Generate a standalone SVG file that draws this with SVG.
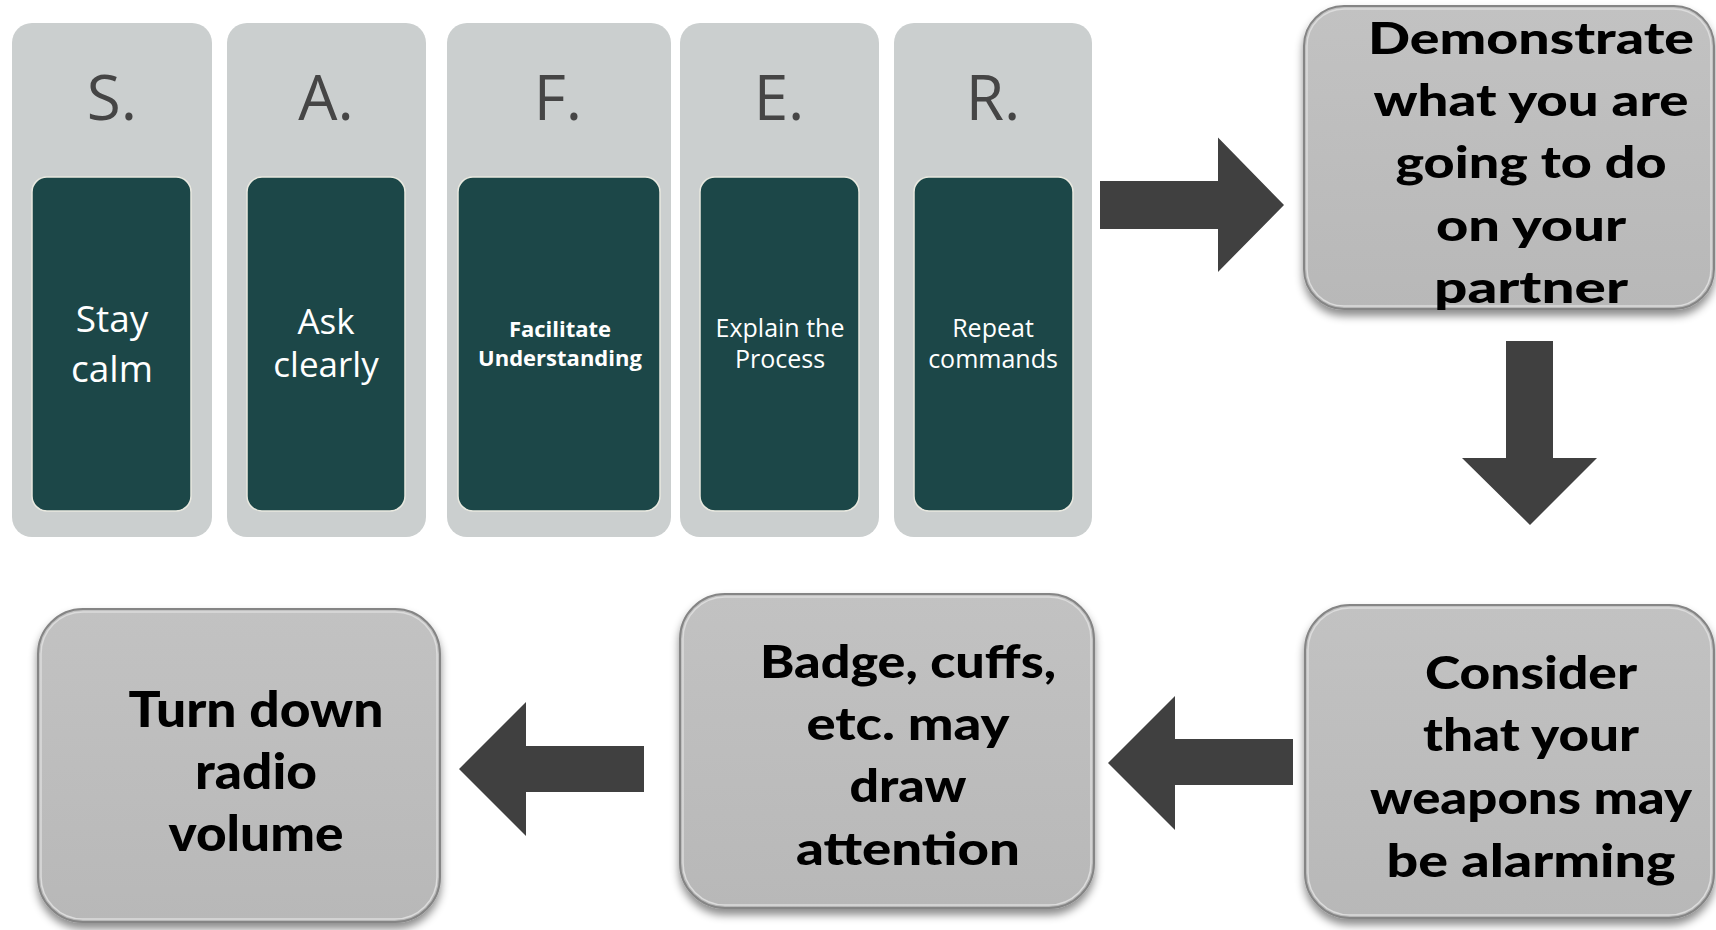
<svg xmlns="http://www.w3.org/2000/svg" width="1716" height="930" viewBox="0 0 1716 930">
<defs>
<filter id="sh" x="-10%" y="-10%" width="120%" height="125%">
<feDropShadow dx="0" dy="6" stdDeviation="4" flood-color="#000" flood-opacity="0.45"/>
</filter>
<linearGradient id="bg" x1="0" y1="0" x2="0" y2="1">
<stop offset="0" stop-color="#c2c2c2"/>
<stop offset="1" stop-color="#b8b8b8"/>
</linearGradient>
</defs>
<style>
.col{fill:#cbcfcf}
.inner{fill:#1c4748;stroke:#e9e9e0;stroke-width:1.5}
.letter{font-family:"Open Sans","Noto Sans",sans-serif;font-weight:400;font-size:62px;fill:#454545;text-anchor:middle}
.it{font-family:"Open Sans","Noto Sans",sans-serif;fill:#ffffff;text-anchor:middle}
.box{fill:url(#bg);stroke:#858585;stroke-width:2;filter:url(#sh)}
.hl{fill:none;stroke:#dcdcdc;stroke-width:1.5}
.bt{font-family:"Lato","Open Sans",sans-serif;font-weight:900;fill:#000;text-anchor:middle}
.arr{fill:#404040}
</style>
<rect width="1716" height="930" fill="#ffffff"/>
<g id="S">
<rect class="col" x="12" y="23" width="200" height="514" rx="20"/>
<text class="letter" x="112" y="120">S.</text>
<rect class="inner" x="32" y="177" width="159" height="334" rx="15"/>
<text class="it" font-size="37" x="112" y="332">Stay</text>
<text class="it" font-size="37" x="112" y="382">calm</text>
</g>
<g id="A">
<rect class="col" x="227" y="23" width="199" height="514" rx="20"/>
<text class="letter" x="326" y="120">A.</text>
<rect class="inner" x="247" y="177" width="158" height="334" rx="15"/>
<text class="it" font-size="35" x="326" y="334">Ask</text>
<text class="it" font-size="35" x="326" y="377">clearly</text>
</g>
<g id="F">
<rect class="col" x="447" y="23" width="224" height="514" rx="20"/>
<text class="letter" x="558" y="120">F.</text>
<rect class="inner" x="458" y="177" width="202" height="334" rx="15"/>
<text class="it" font-size="22" font-weight="700" x="560" y="337">Facilitate</text>
<text class="it" font-size="22" font-weight="700" x="560" y="366">Understanding</text>
</g>
<g id="E">
<rect class="col" x="680" y="23" width="199" height="514" rx="20"/>
<text class="letter" x="779" y="120">E.</text>
<rect class="inner" x="700" y="177" width="159" height="334" rx="15"/>
<text class="it" font-size="25" x="780" y="337">Explain the</text>
<text class="it" font-size="25" x="780" y="368">Process</text>
</g>
<g id="R">
<rect class="col" x="894" y="23" width="198" height="514" rx="20"/>
<text class="letter" x="993" y="120">R.</text>
<rect class="inner" x="914" y="177" width="159" height="334" rx="15"/>
<text class="it" font-size="25" x="993" y="337">Repeat</text>
<text class="it" font-size="25" x="993" y="368">commands</text>
</g>
<g id="demonstrate">
<rect class="box" x="1304" y="6" width="410" height="303" rx="40"/>
<rect class="hl" x="1307" y="9" width="404" height="297" rx="37"/>
<g class="bt" font-size="44">
<text x="1531" y="54" textLength="326" lengthAdjust="spacingAndGlyphs">Demonstrate</text>
<text x="1531" y="116" textLength="315" lengthAdjust="spacingAndGlyphs">what you are</text>
<text x="1531" y="178" textLength="271" lengthAdjust="spacingAndGlyphs">going to do</text>
<text x="1531" y="241" textLength="190" lengthAdjust="spacingAndGlyphs">on your</text>
<text x="1531" y="303" textLength="194" lengthAdjust="spacingAndGlyphs">partner</text>
</g>
</g>
<g id="consider">
<rect class="box" x="1305" y="605" width="409" height="313" rx="45"/>
<rect class="hl" x="1308" y="608" width="403" height="307" rx="42"/>
<g class="bt" font-size="46">
<text x="1531" y="689" textLength="212" lengthAdjust="spacingAndGlyphs">Consider</text>
<text x="1531" y="751" textLength="216" lengthAdjust="spacingAndGlyphs">that your</text>
<text x="1531" y="814" textLength="322" lengthAdjust="spacingAndGlyphs">weapons may</text>
<text x="1531" y="877" textLength="289" lengthAdjust="spacingAndGlyphs">be alarming</text>
</g>
</g>
<g id="badge">
<rect class="box" x="680" y="594" width="414" height="314" rx="45"/>
<rect class="hl" x="683" y="597" width="408" height="308" rx="42"/>
<g class="bt" font-size="45">
<text x="908" y="678" textLength="296" lengthAdjust="spacingAndGlyphs">Badge, cuffs,</text>
<text x="908" y="740" textLength="203" lengthAdjust="spacingAndGlyphs">etc. may</text>
<text x="908" y="802" textLength="117" lengthAdjust="spacingAndGlyphs">draw</text>
<text x="908" y="865" textLength="224" lengthAdjust="spacingAndGlyphs">attention</text>
</g>
</g>
<g id="turndown">
<rect class="box" x="38" y="609" width="402" height="313" rx="45"/>
<rect class="hl" x="41" y="612" width="396" height="307" rx="42"/>
<g class="bt" font-size="49">
<text x="256" y="727" textLength="255" lengthAdjust="spacingAndGlyphs">Turn down</text>
<text x="256" y="789" textLength="122" lengthAdjust="spacingAndGlyphs">radio</text>
<text x="256" y="851" textLength="175" lengthAdjust="spacingAndGlyphs">volume</text>
</g>
</g>
<g id="connectors">
<polygon class="arr" points="1100,181 1218,181 1218,137.5 1284,205 1218,272 1218,229 1100,229"/>
<polygon class="arr" points="1506,341 1553,341 1553,458 1597,458 1530,525 1462,458 1506,458"/>
<polygon class="arr" points="1293,739 1175,739 1175,696 1108,763 1175,830 1175,785 1293,785"/>
<polygon class="arr" points="644,746 526,746 526,702 459,769 526,836 526,792 644,792"/>
</g>
</svg>
